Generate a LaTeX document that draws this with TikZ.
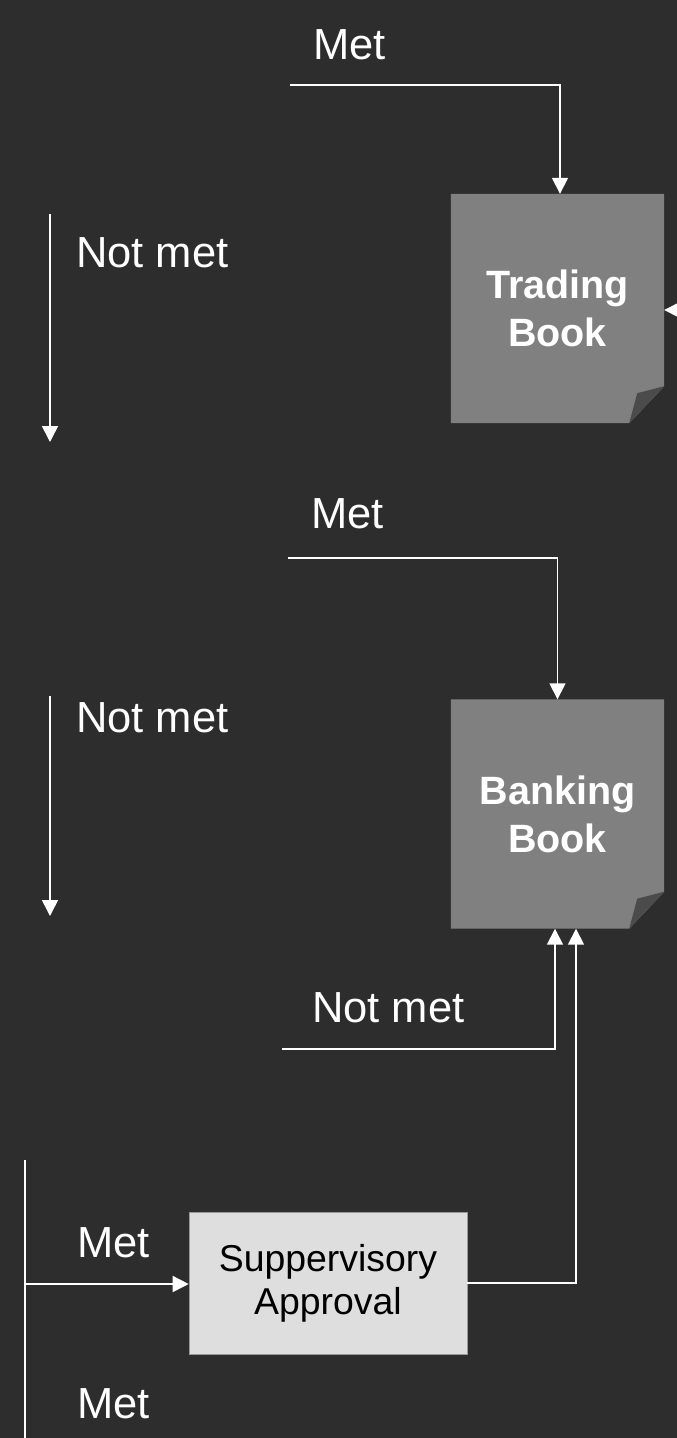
\documentclass[tikz,border=0pt]{standalone}
\usepackage{fontspec}
\setmainfont{Liberation Sans}
\usetikzlibrary{arrows.meta,calc}
\definecolor{bg}{HTML}{2D2D2D}
\definecolor{bookgray}{HTML}{808080}
\definecolor{foldgray}{HTML}{4B4B4B}
\definecolor{appr}{HTML}{DEDEDE}
\tikzset{
  arr/.style={draw=white, line width=1.6pt, -{Triangle[width=16pt,length=16pt]}},
  ln/.style={draw=white, line width=1.6pt},
  lbl/.style={anchor=base west, inner sep=0pt, text=white, font=\fontsize{43.5}{50}\selectfont},
  bookframe/.style={minimum width=213pt, minimum height=229pt, inner sep=0pt, text=white, align=center, font=\bfseries\fontsize{39.5}{48}\selectfont},
  apprbox/.style={fill=appr, draw=gray!80, line width=0.6pt, minimum width=278pt, minimum height=142pt, inner sep=0pt, align=center, text=black, font=\fontsize{37.4}{43}\selectfont}
}
\newcommand{\bookshape}[1]{%
  \fill[bookgray] (#1.north west) -- (#1.north east) -- ($(#1.south east)+(0pt,37pt)$) -- ($(#1.south east)+(-35pt,0pt)$) -- (#1.south west) -- cycle;
  \fill[foldgray] ($(#1.south east)+(0pt,37pt)$) -- ($(#1.south east)+(-27pt,30pt)$) -- ($(#1.south east)+(-35pt,0pt)$) -- cycle;
}
\begin{document}
\begin{tikzpicture}[x=1pt,y=-1pt]
\useasboundingbox (0,0) rectangle (677,1438);
\fill[bg] (0,0) rectangle (677,1438);

% Trading Book
\node[bookframe] (tb) at (557.5,308.5) {};
\bookshape{tb}
\node[bookframe] (tbt) at (557.5,308.5) {Trading\\Book};

% Banking Book
\node[bookframe] (bb) at (557.5,814) {};
\bookshape{bb}
\node[bookframe] (bbt) at (557.5,814) {Banking\\Book};

% Supervisory approval
\node[apprbox] (sa) at (328,1283) {Suppervisory\\Approval};

% Labels
\node[lbl] (met1) at (313,59) {Met};
\node[lbl] (nm1) at (76,267) {Not met};
\node[lbl] (met2) at (311,528) {Met};
\node[lbl] (nm2) at (76,732) {Not met};
\node[lbl] (nm3) at (312,1022) {Not met};
\node[lbl] (met3) at (77,1257) {Met};
\node[lbl] (met4) at (77,1418) {Met};

% Coordinates for free ends
\coordinate (a1) at (290,85);
\coordinate (a2) at (677,310);
\coordinate (b1) at (50,214);
\coordinate (b2) at (50,442);
\coordinate (c1) at (288,558);
\coordinate (d1) at (50,696);
\coordinate (d2) at (50,916);
\coordinate (e1) at (282,1049);
\coordinate (f1) at (25,1160);
\coordinate (f2) at (25,1438);
\coordinate (f3) at (25,1284);

% Connectors
\draw[arr] (a1) -| ([xshift=2.5pt]tb.north);
\draw[arr] (a2) -- (tb.east |- a2);
\draw[arr] (b1) -- (b2);
\draw[arr] (c1) -| (bb.north);
\draw[arr] (d1) -- (d2);
\draw[arr] (e1) -| ([xshift=-2.5pt]bb.south);
\draw[arr] (sa.east) -| ([xshift=18.5pt]bb.south);
\draw[ln] (f1) -- (f2);
\draw[arr] (f3) -- (sa.west |- f3);
\end{tikzpicture}
\end{document}
